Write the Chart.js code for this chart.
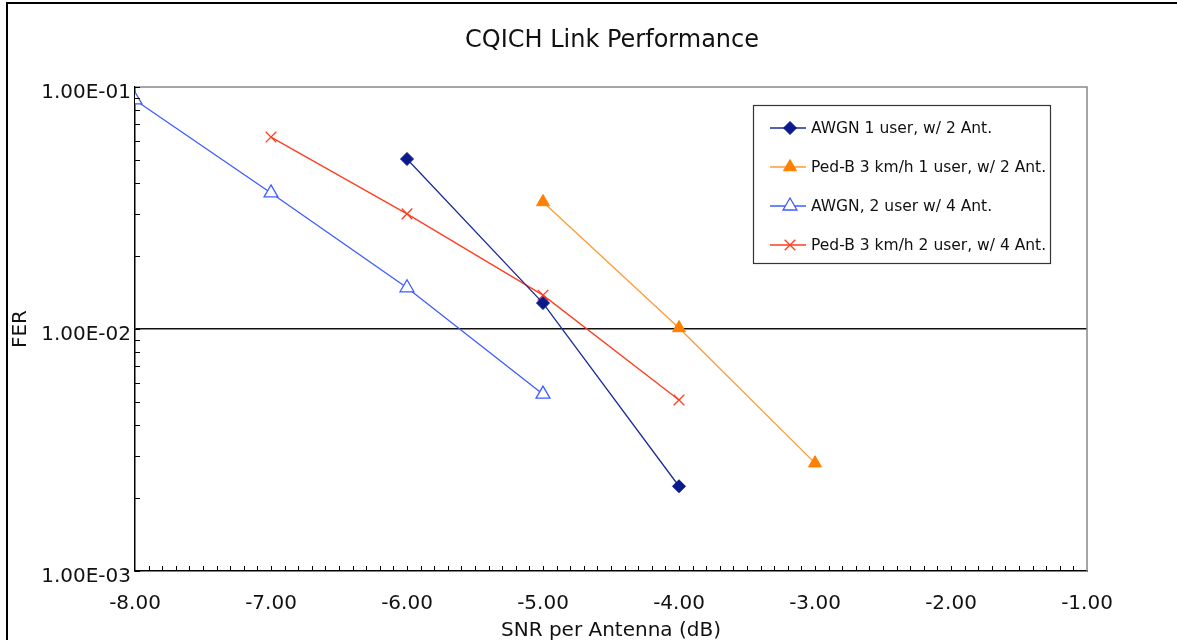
<!DOCTYPE html>
<html>
<head>
<meta charset="utf-8">
<script src="https://cdn.jsdelivr.net/npm/chart.js@4/dist/chart.umd.min.js"></script>
<style>
  html, body { margin: 0; padding: 0; background: #fff; }
  #wrap { width: 1177px; height: 640px; position: relative; }
</style>
</head>
<body>
<div id="wrap"><canvas id="myChart"></canvas></div>
<script>
// Dados
const awgn1Snr = [-6, -5, -4];
const awgn1Fer = [0.0504, 0.0128, 0.00224];
const pedB1Snr = [-5, -4, -3];
const pedB1Fer = [0.0335, 0.0101, 0.00279];
const awgn2Snr = [-8, -7, -6, -5];
const awgn2Fer = [0.0884, 0.0365, 0.0148, 0.00538];
const pedB2Snr = [-7, -6, -5, -4];
const pedB2Fer = [0.0621, 0.0299, 0.0138, 0.00509];

const seriesLabels = [
    'AWGN 1 user, w/ 2 Ant.',
    'Ped-B 3 km/h 1 user, w/ 2 Ant.',
    'AWGN, 2 user w/ 4 Ant.',
    'Ped-B 3 km/h 2 user, w/ 4 Ant.'
];
const yTickValues = [0.001, 0.01, 0.1];
const yTickLabels = ['1.00E-03', '1.00E-02', '1.00E-01'];
const chartTitle = 'CQICH Link Performance';
const FONT = "'DejaVu Sans', sans-serif";

function pts(xs, ys) {
    return xs.map((x, i) => ({ x: x, y: ys[i] }));
}

// Título, legenda, moldura e marcas menores desenhadas à mão
const extras = {
    id: 'extras',
    afterDraw(chart) {
        const ctx = chart.ctx;
        const a = chart.chartArea;
        const xs = chart.scales.x, ys = chart.scales.y;
        ctx.save();
        // título centrado sobre a área do gráfico
        ctx.fillStyle = '#111';
        ctx.font = '24px ' + FONT;
        ctx.textAlign = 'center';
        ctx.textBaseline = 'middle';
        ctx.fillText(chartTitle, (a.left + a.right) / 2 + 1, 41);
        ctx.textAlign = 'left';
        // moldura externa
        ctx.strokeStyle = '#000';
        ctx.lineWidth = 2;
        ctx.beginPath();
        ctx.moveTo(7, 640); ctx.lineTo(7, 3); ctx.lineTo(1177, 3);
        ctx.stroke();
        // topo e direita da área do gráfico
        ctx.strokeStyle = '#888';
        ctx.lineWidth = 1.5;
        ctx.beginPath();
        ctx.moveTo(a.left, a.top); ctx.lineTo(a.right, a.top); ctx.lineTo(a.right, a.bottom);
        ctx.stroke();
        // marcas menores
        ctx.strokeStyle = '#000';
        ctx.lineWidth = 1;
        ctx.beginPath();
        for (let i = 1; i < 70; i++) {
            const px = Math.round(xs.getPixelForValue(-8 + i / 10)) + 0.5;
            ctx.moveTo(px, a.bottom); ctx.lineTo(px, a.bottom - 5);
        }
        ys.ticks.forEach(t => {
            const py = Math.round(ys.getPixelForValue(t.value)) + 0.5;
            ctx.moveTo(a.left, py); ctx.lineTo(a.left + 5, py);
        });
        ctx.stroke();
        // legenda
        const bx = 753, by = 105, bw = 297, bh = 158;
        ctx.fillStyle = '#fff';
        ctx.fillRect(bx, by, bw, bh);
        ctx.strokeStyle = '#333';
        ctx.lineWidth = 1.2;
        ctx.strokeRect(bx + 0.5, by + 0.5, bw, bh);
        ctx.font = '15.5px ' + FONT;
        ctx.textBaseline = 'middle';
        chart.data.datasets.forEach((ds, i) => {
            const cy = 128 + i * 39;
            ctx.strokeStyle = ds.borderColor;
            ctx.lineWidth = 1.3;
            ctx.beginPath();
            ctx.moveTo(770, cy); ctx.lineTo(806, cy);
            ctx.stroke();
            if (Chart.helpers && Chart.helpers.drawPoint) {
                ctx.fillStyle = ds.pointBackgroundColor;
                ctx.strokeStyle = ds.pointBorderColor;
                ctx.lineWidth = ds.pointBorderWidth;
                Chart.helpers.drawPoint(ctx, {
                    pointStyle: ds.pointStyle,
                    radius: ds.pointRadius,
                    borderWidth: ds.pointBorderWidth
                }, 790, cy);
            }
            ctx.fillStyle = '#111';
            ctx.fillText(ds.label, 811, cy + 1);
        });
        ctx.restore();
    }
};

const data = {
    datasets: [{
        label: seriesLabels[0],
        data: pts(awgn1Snr, awgn1Fer),
        borderColor: '#1b2a9c',
        pointStyle: 'rectRot',
        pointRadius: 6.5,
        pointBackgroundColor: '#0a1a8a',
        pointBorderColor: '#0a1a8a',
        pointBorderWidth: 1
    }, {
        label: seriesLabels[1],
        data: pts(pedB1Snr, pedB1Fer),
        borderColor: '#ff9a33',
        pointStyle: 'triangle',
        pointRadius: 7.5,
        pointBackgroundColor: '#ff8000',
        pointBorderColor: '#ff8000',
        pointBorderWidth: 1
    }, {
        label: seriesLabels[2],
        data: pts(awgn2Snr, awgn2Fer),
        borderColor: '#3d5cff',
        pointStyle: 'triangle',
        pointRadius: 8,
        pointBackgroundColor: '#fff',
        pointBorderColor: '#3d5cff',
        pointBorderWidth: 1.3
    }, {
        label: seriesLabels[3],
        data: pts(pedB2Snr, pedB2Fer),
        borderColor: '#ff3d1f',
        pointStyle: 'crossRot',
        pointRadius: 7.5,
        pointBackgroundColor: '#ff3d1f',
        pointBorderColor: '#ff3d1f',
        pointBorderWidth: 1.3
    }]
};
data.datasets.forEach(ds => {
    ds.borderWidth = 1.3;
    ds.tension = 0;
    ds.fill = false;
});

const config = {
    type: 'line',
    data: data,
    options: {
        responsive: true,
        maintainAspectRatio: false,
        animation: false,
        layout: { padding: { left: 0, right: 90, top: 87, bottom: 0 } },
        plugins: {
            legend: { display: false },
            tooltip: { enabled: false },
            title: { display: false }
        },
        scales: {
            x: {
                type: 'linear',
                min: -8,
                max: -1,
                afterFit: s => { s.height = 69; },
                grid: { display: false },
                border: { display: true, color: '#000', width: 1.5 },
                ticks: {
                    stepSize: 1,
                    color: '#111',
                    padding: 13,
                    font: { family: FONT, size: 20 },
                    callback: v => v.toFixed(2)
                },
                title: {
                    display: true,
                    text: 'SNR per Antenna (dB)',
                    color: '#111',
                    font: { family: FONT, size: 20 },
                    padding: { top: 0, bottom: -3 }
                }
            },
            y: {
                type: 'logarithmic',
                min: 0.001,
                max: 0.1,
                afterFit: s => { s.width = 135; },
                afterBuildTicks: s => {
                    const t = [];
                    for (let e = -3; e < -1; e++) {
                        for (let m = 1; m < 10; m++) t.push({ value: m * Math.pow(10, e) });
                    }
                    t.push({ value: 0.1 });
                    s.ticks = t;
                },
                grid: {
                    drawTicks: false,
                    color: c => (c.tick && Math.abs(Math.log10(c.tick.value) + 2) < 1e-6) ? '#111' : 'rgba(0,0,0,0)',
                    lineWidth: 1.5
                },
                border: { display: true, color: '#000', width: 1.5 },
                ticks: {
                    autoSkip: false,
                    color: '#111',
                    padding: 4,
                    labelOffset: 6,
                    font: { family: FONT, size: 20 },
                    callback: v => {
                        const i = yTickValues.findIndex(t => Math.abs(t - v) / t < 1e-6);
                        return i >= 0 ? yTickLabels[i] : '';
                    }
                },
                title: {
                    display: true,
                    text: 'FER',
                    color: '#111',
                    font: { family: FONT, size: 20 },
                    padding: { top: 9, bottom: 0 }
                }
            }
        }
    },
    plugins: [extras]
};

const ctx = document.getElementById('myChart').getContext('2d');
new Chart(ctx, config);
</script>
</body>
</html>
